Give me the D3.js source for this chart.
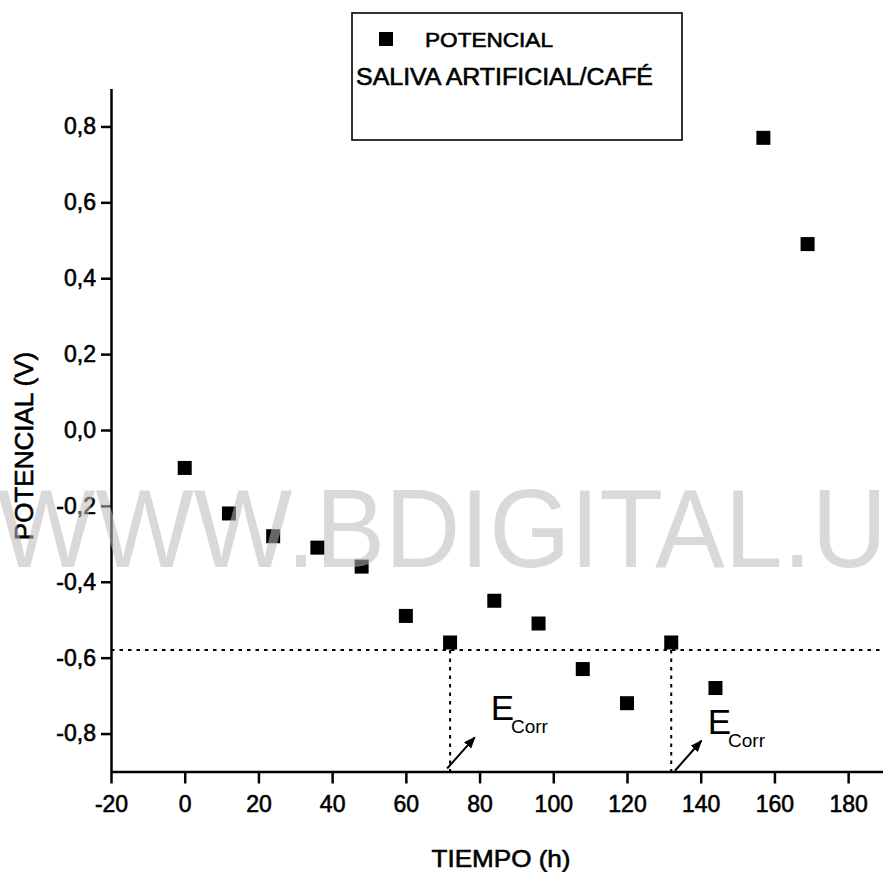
<!DOCTYPE html>
<html lang="es">
	<head>
		<meta charset="utf-8">
		<title>Potencial vs tiempo - saliva artificial/café</title>
		<script type="text/javascript" src="https://cdn.jsdelivr.net/npm/d3@7"></script>
		<style type="text/css">
			body { margin: 0; background: #fff; }
			svg { display: block; font-family: "Liberation Sans", Arial, sans-serif; }
			.ink { stroke: #000; stroke-width: 0.6px; }
		</style>
	</head>
	<body>
		<script type="text/javascript">

			//Width and height
			var w = 883;
			var h = 872;

			// data
			var tiempo    = [0, 12, 24, 36, 48, 60, 72, 84, 96, 108, 120, 132, 144, 157, 169];
			var potencial = [-0.10, -0.22, -0.28, -0.31, -0.36, -0.49, -0.56, -0.45, -0.51, -0.63, -0.72, -0.56, -0.68, 0.77, 0.49];

			// axis ticks
			var xMajor = [-20, 0, 20, 40, 60, 80, 100, 120, 140, 160, 180];
			var xMinor = [-10, 10, 30, 50, 70, 90, 110, 130, 150, 170];
			var yMajor = [-0.8, -0.6, -0.4, -0.2, 0.0, 0.2, 0.4, 0.6, 0.8];
			var yMinor = [-0.7, -0.5, -0.3, -0.1, 0.1, 0.3, 0.5, 0.7];

			// E corr guides
			var eCorrLevel = -0.58;
			var eCorrTimes = [72, 132];
			var arrowFrom  = [[71.2, -0.892], [133, -0.898]];
			var arrowTo    = [[78.7, -0.81], [140.2, -0.819]];
			var labelPos   = [[83, -0.765], [141.9, -0.80]];

			var x = d3.scaleLinear().domain([-20, 190]).range([111, 885]);
			var y = d3.scaleLinear().domain([-0.9, 0.9]).range([771.5, 88.5]);

			//Create SVG element
			var svg = d3.select("body")
						.append("svg")
						.attr("width", w)
						.attr("height", h);

			svg.append("defs").append("marker")
				.attr("id", "arrow")
				.attr("viewBox", "0 0 10 10")
				.attr("refX", 9).attr("refY", 5)
				.attr("markerWidth", 12).attr("markerHeight", 12)
				.attr("markerUnits", "userSpaceOnUse")
				.attr("orient", "auto")
				.append("path")
				.attr("d", "M0,1 L10,5 L0,9 Z")
				.attr("fill", "#000");

			var comma = function(d) { return d3.format(".1f")(d).replace(".", ",").replace("−", "-"); };

			// axes: major with labels, minor without
			var gx = svg.append("g").attr("transform", "translate(0," + y(-0.9) + ")");
			gx.call(d3.axisBottom(x).tickValues(xMinor).tickSize(7).tickSizeOuter(0).tickFormat(""));
			gx.call(d3.axisBottom(x).tickValues(xMajor).tickSize(12).tickSizeOuter(0).tickPadding(12)
				.tickFormat(function(d) { return String(d).replace("−", "-"); }));

			var gy = svg.append("g").attr("transform", "translate(" + x(-20) + ",0)");
			gy.call(d3.axisLeft(y).tickValues(yMinor).tickSize(6).tickSizeOuter(0).tickFormat(""));
			gy.call(d3.axisLeft(y).tickValues(yMajor).tickSize(10).tickSizeOuter(0).tickPadding(5).tickFormat(comma));

			svg.selectAll(".domain").attr("stroke-width", 2.5);
			svg.selectAll(".tick line").attr("stroke-width", 2.5);
			svg.selectAll(".tick text")
				.attr("class", "ink")
				.attr("font-size", 23)
				.attr("font-family", "Liberation Sans, Arial, sans-serif");

			// axis titles
			svg.append("text")
				.attr("class", "ink")
				.attr("x", 501).attr("y", 867)
				.attr("text-anchor", "middle")
				.attr("font-size", 24)
				.attr("textLength", 139).attr("lengthAdjust", "spacingAndGlyphs")
				.text("TIEMPO (h)");

			svg.append("text")
				.attr("class", "ink")
				.attr("transform", "translate(33,446) rotate(-90)")
				.attr("text-anchor", "middle")
				.attr("font-size", 26)
				.text("POTENCIAL (V)");

			// dotted guides
			svg.append("line")
				.attr("x1", x(-20)).attr("x2", x(190))
				.attr("y1", y(eCorrLevel)).attr("y2", y(eCorrLevel))
				.attr("stroke", "#000").attr("stroke-width", 2)
				.attr("stroke-dasharray", "3.5,5");

			svg.selectAll("line.vguide")
				.data(eCorrTimes)
				.enter()
				.append("line")
				.attr("class", "vguide")
				.attr("x1", function(d) { return x(d); }).attr("x2", function(d) { return x(d); })
				.attr("y1", y(eCorrLevel)).attr("y2", y(-0.9))
				.attr("stroke", "#000").attr("stroke-width", 2)
				.attr("stroke-dasharray", "3.5,5");

			// arrows
			svg.selectAll("line.arrow")
				.data(arrowFrom)
				.enter()
				.append("line")
				.attr("class", "arrow")
				.attr("x1", function(d) { return x(d[0]); })
				.attr("y1", function(d) { return y(d[1]); })
				.attr("x2", function(d, i) { return x(arrowTo[i][0]); })
				.attr("y2", function(d, i) { return y(arrowTo[i][1]); })
				.attr("stroke", "#000").attr("stroke-width", 2)
				.attr("marker-end", "url(#arrow)");

			// E corr labels
			var lab = svg.selectAll("text.ecorr")
				.data(labelPos)
				.enter()
				.append("text")
				.attr("class", "ecorr")
				.attr("x", function(d) { return x(d[0]); })
				.attr("y", function(d) { return y(d[1]); })
				.attr("font-size", 35);
			lab.append("tspan").text("E");
			lab.append("tspan").attr("dx", -3).attr("dy", 13).attr("font-size", 19).text("Corr");

			// data points
			svg.selectAll("rect.pt")
				.data(tiempo)
				.enter()
				.append("rect")
				.attr("class", "pt")
				.attr("x", function(d) { return x(d) - 7; })
				.attr("y", function(d, i) { return y(potencial[i]) - 7; })
				.attr("width", 14)
				.attr("height", 14)
				.attr("fill", "#000");

			// legend
			svg.append("rect")
				.attr("x", 352).attr("y", 13)
				.attr("width", 330).attr("height", 127)
				.attr("fill", "none")
				.attr("stroke", "#000").attr("stroke-width", 1.6);
			svg.append("rect")
				.attr("x", 379).attr("y", 32)
				.attr("width", 14).attr("height", 14)
				.attr("fill", "#000");
			svg.append("text")
				.attr("class", "ink")
				.attr("x", 425).attr("y", 47)
				.attr("font-size", 21)
				.attr("textLength", 128).attr("lengthAdjust", "spacingAndGlyphs")
				.text("POTENCIAL");
			svg.append("text")
				.attr("class", "ink")
				.attr("x", 356).attr("y", 85)
				.attr("font-size", 23)
				.attr("textLength", 297).attr("lengthAdjust", "spacingAndGlyphs")
				.text("SALIVA ARTIFICIAL/CAFÉ");

			// watermark on top
			svg.append("text")
				.attr("x", -3).attr("y", 567)
				.attr("font-size", 112)
				.attr("textLength", 890).attr("lengthAdjust", "spacingAndGlyphs")
				.attr("fill", "rgb(185,185,185)")
				.attr("fill-opacity", 0.55)
				.text("WWW.BDIGITAL.U");

		</script>
	</body>
</html>
